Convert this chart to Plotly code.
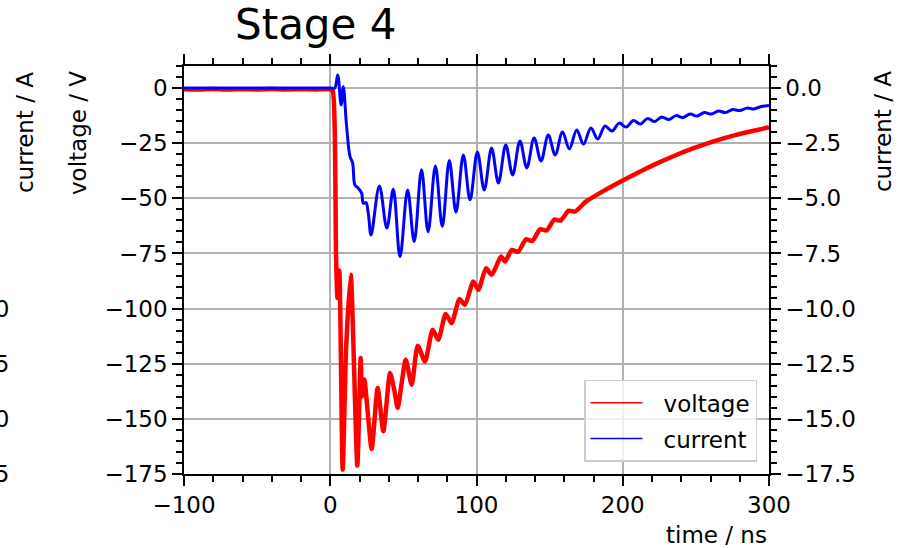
import plotly.graph_objects as go

# ---- data ----
time_v = [-100, -90, -80, -70, -60, -50, -40, -30, -20, -10, 0, 1.7, 3.2, 3.9, 4.9, 6.2, 8.5,
          10.8, 14.0, 18.5, 20.8, 21.7, 23.3, 28.3, 32.4, 36.3, 40.9, 43.8, 46.1, 51.6, 55.7,
          59.8, 64.8, 70.0, 73.9, 78.9, 83.0, 88.3, 92.1, 97.8, 101.3, 106.5, 110.4, 116.8,
          119.5, 124.1, 128.5, 133.8, 138.2, 143.5, 148.0, 153.2, 157.6, 163.0, 167.4, 175,
          187, 200, 212, 222, 235, 248, 260, 275, 288, 300]
voltage = [-0.5, -0.6, -0.4, -0.7, -0.5, -0.6, -0.4, -0.6, -0.5, -0.6, -0.6, -1.4, -23.5, -73.4,
           -95.2, -82.7, -173.0, -118.7, -84.7, -171.2, -122.4, -139.8, -132.2, -163.6, -136.0,
           -155.6, -129.2, -137.0, -145.0, -123.2, -134.5, -116.8, -124.0, -109.6, -114.1,
           -102.4, -106.6, -95.7, -98.3, -87.7, -91.5, -81.7, -84.7, -76.4, -78.7, -73.4, -74.2,
           -68.6, -69.3, -64.0, -64.6, -59.6, -60.1, -55.6, -56.0, -51.4, -46.6, -41.9, -37.8,
           -34.6, -30.8, -27.4, -24.6, -21.7, -19.6, -17.8]

time_i = [-100, -75, -50, -25, 0, 3.0, 5.1, 7.4, 8.9, 11.2, 13.5, 15.3, 16.9, 19.2, 21.5, 22.6,
          24.4, 26.0, 27.9, 33.6, 38.7, 43.1, 47.7, 52.9, 57.4, 62.4, 66.9, 71.9, 76.6, 81.4,
          86.0, 91.0, 95.6, 100.6, 105.3, 110.3, 115.0, 120.0, 124.7, 129.7, 134.4, 139.4,
          144.1, 149.1, 153.8, 158.8, 163.5, 168.5, 173.2, 178.2, 182.9, 187.9, 192.6, 197.6,
          202.3, 207.3, 212.0, 217.0, 221.7, 226.7, 231.4, 236.4, 241.1, 246.1, 250.8, 255.8,
          260.5, 265.5, 270.2, 275.2, 279.9, 284.9, 289.6, 294.6, 300]
current = [0.0, 0.0, 0.0, 0.0, 0.0, 0.0, 0.59, -0.77, 0.06, -1.75, -3.10, -3.40, -4.40, -4.54,
           -4.77, -5.22, -5.19, -5.68, -6.66, -4.44, -6.35, -4.59, -7.64, -4.62, -6.96, -3.71,
           -6.51, -3.53, -6.28, -3.29, -5.63, -3.03, -5.07, -2.90, -4.62, -2.72, -4.30, -2.58,
           -3.94, -2.40, -3.62, -2.26, -3.31, -2.13, -3.03, -1.99, -2.76, -1.90, -2.54, -1.81,
           -2.31, -1.72, -1.95, -1.59, -1.77, -1.47, -1.63, -1.38, -1.52, -1.31, -1.43, -1.25,
           -1.34, -1.18, -1.27, -1.11, -1.18, -1.04, -1.11, -0.97, -1.02, -0.91, -0.95, -0.84,
           -0.79]

series_names = ["voltage", "current"]
series_colors = ["#ff0000", "#0000ff"]

FONT = "DejaVu Sans"
FS = 23

fig = go.Figure()
fig.add_trace(go.Scatter(x=time_v, y=voltage, mode="lines", name="voltage", showlegend=False,
                         line=dict(color=series_colors[0], width=4.5, shape="spline",
                                   smoothing=0.6), yaxis="y"))
fig.add_trace(go.Scatter(x=time_i, y=current, mode="lines", name="current", showlegend=False,
                         line=dict(color=series_colors[1], width=3, shape="spline",
                                   smoothing=1.0), yaxis="y2"))
# legend entries (thin line samples as in the reference)
for nm, col in zip(series_names, series_colors):
    fig.add_trace(go.Scatter(x=[None], y=[None], mode="lines", name="\u2002\u2009" + nm,
                             legendgroup=nm, line=dict(color=col, width=1.5), showlegend=True))

axis_common = dict(showline=True, linecolor="black", linewidth=1.5, ticks="outside",
                   ticklen=10, tickwidth=2, tickcolor="black", zeroline=False,
                   tickfont=dict(family=FONT, size=FS, color="black"))

fig.update_layout(
    width=901, height=548,
    margin=dict(l=184, r=132, t=66, b=74),
    paper_bgcolor="white", plot_bgcolor="white",
    font=dict(family=FONT, size=FS, color="black"),
    xaxis=dict(range=[-100, 300], dtick=100, tick0=0, mirror="ticks",
               showgrid=True, gridcolor="#b0b0b0", gridwidth=1.5,
               minor=dict(dtick=20, tick0=0, ticks="outside", ticklen=6, tickwidth=1.5,
                          tickcolor="black", showgrid=False),
               **axis_common),
    yaxis=dict(range=[-175, 10], dtick=25, tick0=0,
               showgrid=True, gridcolor="#b0b0b0", gridwidth=1.5,
               minor=dict(dtick=5, tick0=0, ticks="outside", ticklen=6, tickwidth=1.5,
                          tickcolor="black", showgrid=False),
               **axis_common),
    yaxis2=dict(range=[-17.5, 1.0], dtick=2.5, tick0=0, overlaying="y", side="right",
                showgrid=False, tickformat=".1f",
                minor=dict(dtick=0.5, tick0=0, ticks="outside", ticklen=6, tickwidth=1.5,
                           tickcolor="black", showgrid=False),
                **axis_common),
    legend=dict(x=0.9795, y=0.03, xanchor="right", yanchor="bottom",
                bgcolor="rgba(255,255,255,0.8)", bordercolor="#cccccc", borderwidth=1.5,
                itemwidth=52, tracegroupgap=3,
                font=dict(family=FONT, size=FS, color="black")),
    showlegend=True,
)

ann = []
ann.append(dict(text="Stage 4", x=0.2256, y=1.1005, xref="paper", yref="paper",
                xanchor="center", yanchor="middle", showarrow=False,
                font=dict(family=FONT, size=42, color="black")))
ann.append(dict(text="time / ns", x=1.0, y=-0.1495, xref="paper", yref="paper",
                xanchor="right", yanchor="middle", showarrow=False,
                font=dict(family=FONT, size=FS, color="black")))
ann.append(dict(text="voltage / V", x=-0.1812, y=0.8358, xref="paper", yref="paper",
                xanchor="center", yanchor="middle", textangle=-90, showarrow=False,
                font=dict(family=FONT, size=FS, color="black")))
ann.append(dict(text="current / A", x=-0.2718, y=0.838, xref="paper", yref="paper",
                xanchor="center", yanchor="middle", textangle=-90, showarrow=False,
                font=dict(family=FONT, size=FS, color="black")))
ann.append(dict(text="current / A", x=1.1949, y=0.838, xref="paper", yref="paper",
                xanchor="center", yanchor="middle", textangle=-90, showarrow=False,
                font=dict(family=FONT, size=FS, color="black")))
partial_labels = ["−10.0", "−12.5", "−15.0", "−17.5"]
partial_y = [0.4044, 0.2696, 0.1348, 0.0]
for txt, yy in zip(partial_labels, partial_y):
    ann.append(dict(text=txt, x=-0.2957, y=yy, xref="paper", yref="paper",
                    xanchor="right", yanchor="middle", showarrow=False,
                    font=dict(family=FONT, size=FS, color="black")))
fig.update_layout(annotations=ann)

fig.write_html("out.html", config={"displayModeBar": False},
               post_script="document.body.style.margin='0px';document.body.style.padding='0px';")
